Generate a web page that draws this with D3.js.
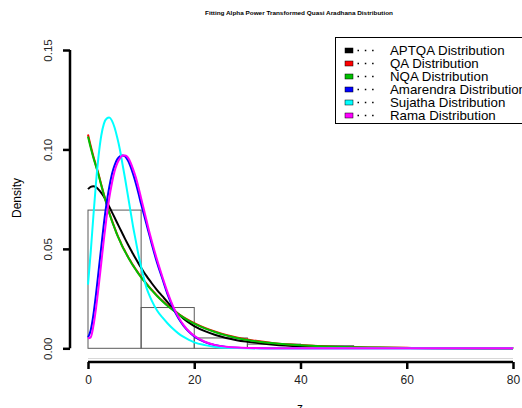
<!DOCTYPE html>
<html>
<head>
<meta charset="utf-8">
<script src="https://cdn.jsdelivr.net/npm/d3@7"></script>
<style>
  body { margin: 0; background: #fff; }
  svg { display: block; }
</style>
</head>
<body>
<div id="chart"></div>
<script>

// x grid where the fitted densities were read
var xGrid = [0, 0.5, 1, 1.5, 2, 2.5, 3, 3.5, 4, 4.5, 5, 5.5, 6, 6.5, 7, 7.5, 8, 8.5, 9, 9.5, 10, 10.5, 11, 11.5, 12,
             13, 14, 15, 16, 17, 18, 19, 20, 22, 24, 26, 28, 30, 35, 40, 45, 50, 55, 60, 65, 70, 75, 80];

var aptqa = [0.080, 0.0812, 0.0815, 0.081, 0.0798, 0.0782, 0.0762, 0.0738, 0.0712, 0.0685, 0.0658, 0.063, 0.0603, 0.0576, 0.0549, 0.0523, 0.0498, 0.0474, 0.045, 0.0427, 0.0405, 0.0384, 0.0364, 0.0345, 0.0327,
             0.0293, 0.0262, 0.0231, 0.0198, 0.0172, 0.0149, 0.0129, 0.0112, 0.0086, 0.0067, 0.0052, 0.0041, 0.0033, 0.0018, 0.001, 0.0006, 0.00035, 0.0002, 0.00012, 0.00007, 0.00004, 0.00002, 0.00001];

var qa = [0.1075, 0.1018, 0.0966, 0.092, 0.0874, 0.0823, 0.0773, 0.0728, 0.0683, 0.0643, 0.0607, 0.0572, 0.0542, 0.0512, 0.0487, 0.0462, 0.0439, 0.0417, 0.0397, 0.0377, 0.0359, 0.0342, 0.0325, 0.0309, 0.0294,
          0.0265, 0.0239, 0.0215, 0.0194, 0.0174, 0.0156, 0.014, 0.0126, 0.0102, 0.0083, 0.0067, 0.0054, 0.0044, 0.0026, 0.0016, 0.00095, 0.00058, 0.00036, 0.00022, 0.00014, 0.00009, 0.00005, 0.00003];

var nqa = [0.1065, 0.101, 0.096, 0.0915, 0.087, 0.082, 0.077, 0.0725, 0.068, 0.064, 0.0605, 0.057, 0.054, 0.051, 0.0485, 0.046, 0.0437, 0.0415, 0.0395, 0.0375, 0.0357, 0.034, 0.0323, 0.0307, 0.0292,
           0.0263, 0.0237, 0.0213, 0.0192, 0.0172, 0.0154, 0.0138, 0.0124, 0.01, 0.0081, 0.0065, 0.0052, 0.0042, 0.0025, 0.0015, 0.0009, 0.00055, 0.00034, 0.00021, 0.00013, 0.00008, 0.00005, 0.00003];

var amarendra = [0.0055, 0.009, 0.0165, 0.027, 0.039, 0.051, 0.063, 0.073, 0.081, 0.0875, 0.092, 0.095, 0.0965, 0.097, 0.0965, 0.0945, 0.0915, 0.0875, 0.083, 0.078, 0.0725, 0.0675, 0.0625, 0.0575, 0.0525,
                 0.043, 0.035, 0.027, 0.0205, 0.0152, 0.0113, 0.0083, 0.006, 0.0031, 0.0015, 0.0007, 0.0003, 0.00014, 0.00002, 0, 0, 0, 0, 0, 0, 0, 0, 0];

var sujatha = [0.032, 0.048, 0.066, 0.083, 0.097, 0.107, 0.113, 0.1155, 0.116, 0.1145, 0.111, 0.106, 0.1, 0.0925, 0.085, 0.077, 0.069, 0.061, 0.054, 0.047, 0.041, 0.0355, 0.0305, 0.027, 0.024,
               0.019, 0.0155, 0.0125, 0.0098, 0.0075, 0.0057, 0.0042, 0.003, 0.0016, 0.0007, 0.0003, 0.00012, 0.00005, 0, 0, 0, 0, 0, 0, 0, 0, 0, 0];

var rama = [0.005, 0.0055, 0.011, 0.02, 0.031, 0.043, 0.055, 0.066, 0.0755, 0.083, 0.089, 0.093, 0.0955, 0.097, 0.097, 0.096, 0.0935, 0.09, 0.086, 0.081, 0.0755, 0.07, 0.0645, 0.059, 0.054,
            0.0445, 0.036, 0.028, 0.0212, 0.0158, 0.0117, 0.0086, 0.0063, 0.0033, 0.0016, 0.0008, 0.0004, 0.0002, 0.00004, 0, 0, 0, 0, 0, 0, 0, 0, 0];

// histogram of z, bins of width 10
var binStarts = [0, 10, 20, 30, 40, 50, 60, 70];
var binDensity = [0.0695, 0.0205, 0.0052, 0.0021, 0.0013, 0, 0, 0.0004];

var legendNames = ["APTQA Distribution", "QA Distribution", "NQA Distribution", "Amarendra Distribution", "Sujatha Distribution", "Rama Distribution"];
var legendColors = ["#000000", "#ff0000", "#00c000", "#0000ff", "#00ffff", "#ff00ff"];

var xTicks = [0, 20, 40, 60, 80];
var yTicks = [0, 0.05, 0.10, 0.15];

var W = 522, H = 408;

var svg = d3.select("#chart")
    .append("svg")
    .attr("width", W)
    .attr("height", H)
    .style("font-family", "'Liberation Sans', Arial, sans-serif");

// scales
var x = d3.scaleLinear().domain([0, 80]).range([88, 513]);
var y = d3.scaleLinear().domain([0, 0.15]).range([348.3, 50]);

// title
svg.append("text")
    .attr("x", 299)
    .attr("y", 15)
    .attr("text-anchor", "middle")
    .style("font-size", "5.6px")
    .style("font-weight", "bold")
    .attr("textLength", 188)
    .attr("lengthAdjust", "spacingAndGlyphs")
    .text("Fitting Alpha Power Transformed Quasi Aradhana Distribution");

// faint line under the histogram
svg.append("line")
    .attr("x1", x(0)).attr("x2", x(80))
    .attr("y1", 358.5).attr("y2", 358.5)
    .style("stroke", "#d8d8d8")
    .style("stroke-width", 1);

// histogram bars
svg.selectAll(".bar")
  .data(binStarts)
  .enter()
  .append("rect")
    .attr("class", "bar")
    .attr("x", function(d) { return x(d) })
    .attr("y", function(d, i) { return y(binDensity[i]) })
    .attr("width", function(d) { return x(d + 10) - x(d) })
    .attr("height", function(d, i) { return y(0) - y(binDensity[i]) })
    .style("fill", "none")
    .style("stroke", "#5a5a5a")
    .style("stroke-width", 1);

// fitted curves, drawn in legend order
var allSeries = [aptqa, qa, nqa, amarendra, sujatha, rama];
var line = d3.line()
    .x(function(d, i) { return x(xGrid[i]) })
    .y(function(d) { return y(d) })
    .curve(d3.curveMonotoneX);

allSeries.forEach(function(s, k) {
  svg.append("path")
    .datum(s)
    .attr("d", line)
    .style("fill", "none")
    .style("stroke", legendColors[k])
    .style("stroke-width", 2);
});

// y axis
var yAxis = svg.append("g")
    .attr("transform", "translate(70,0)")
    .call(d3.axisLeft(y).tickValues(yTicks).tickSize(7).tickFormat(d3.format(".2f")));
yAxis.select(".domain").attr("d", "M0," + y(0) + "V" + y(0.15)).style("stroke-width", 2.5);
yAxis.selectAll(".tick line").style("stroke-width", 2.5);
yAxis.selectAll(".tick text")
    .attr("x", null).attr("dy", null)
    .attr("transform", "translate(-18.5,0) rotate(-90)")
    .attr("text-anchor", "middle")
    .style("font-size", "11.5px")
    .style("fill", "#222")
    .style("font-family", "'Liberation Sans', Arial, sans-serif");

// x axis
var xAxis = svg.append("g")
    .attr("transform", "translate(0,362)")
    .call(d3.axisBottom(x).tickValues(xTicks).tickSize(7).tickFormat(d3.format("d")));
xAxis.select(".domain").attr("d", "M" + x(0) + ",0H" + x(80)).style("stroke-width", 2.5);
xAxis.selectAll(".tick line").style("stroke-width", 2.5);
xAxis.selectAll(".tick text")
    .attr("y", 22).attr("dy", null)
    .style("font-size", "12px")
    .style("fill", "#222")
    .style("font-family", "'Liberation Sans', Arial, sans-serif");

// axis labels
svg.append("text")
    .attr("transform", "translate(21,198) rotate(-90)")
    .attr("text-anchor", "middle")
    .style("font-size", "12px")
    .text("Density");

svg.append("text")
    .attr("x", 300)
    .attr("y", 412)
    .attr("text-anchor", "middle")
    .style("font-size", "12px")
    .text("z");

// legend
var lg = svg.append("g");
lg.append("rect")
    .attr("x", 335.5).attr("y", 37.5)
    .attr("width", 200).attr("height", 86)
    .style("fill", "#fff")
    .style("stroke", "#000")
    .style("stroke-width", 1);

legendNames.forEach(function(name, i) {
  var cy = 50.5 + i * 13;
  lg.append("rect")
    .attr("x", 345).attr("y", cy - 2.5)
    .attr("width", 8).attr("height", 5)
    .style("fill", legendColors[i])
    .style("stroke", "#000")
    .style("stroke-width", 0.5);
  lg.append("line")
    .attr("x1", 357.5).attr("x2", 377)
    .attr("y1", cy).attr("y2", cy)
    .style("stroke", "#000")
    .style("stroke-width", 1.3)
    .style("stroke-dasharray", "1.5,5.8");
  lg.append("text")
    .attr("x", 390)
    .attr("y", cy + 4.6)
    .style("font-size", "13.3px")
    .text(name);
});

</script>
</body>
</html>
